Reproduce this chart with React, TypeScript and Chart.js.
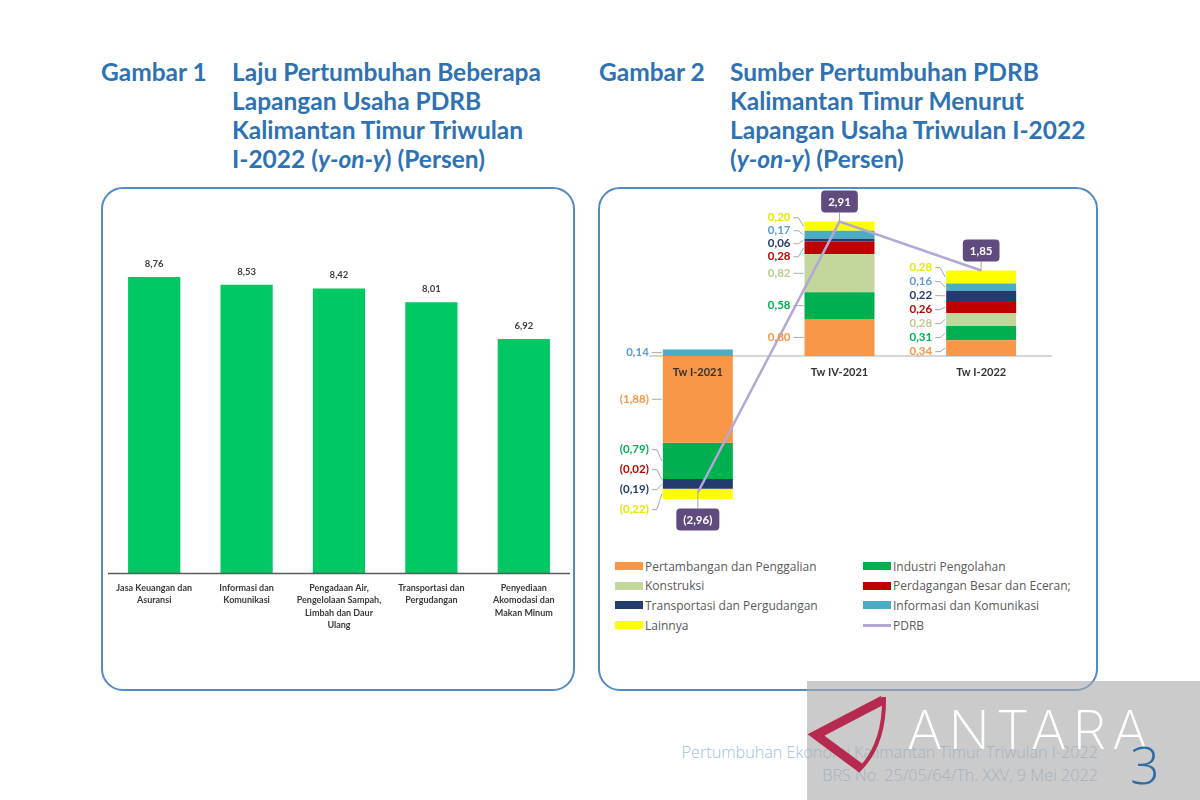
import React, { useEffect, useRef } from "react";
import { Chart, registerables } from "chart.js";

Chart.register(...registerables);

// ---------- DATA ----------
const growthCategories: string[][] = [
  ["Jasa Keuangan dan", "Asuransi"],
  ["Informasi dan", "Komunikasi"],
  ["Pengadaan Air,", "Pengelolaan Sampah,", "Limbah dan Daur", "Ulang"],
  ["Transportasi dan", "Pergudangan"],
  ["Penyediaan", "Akomodasi dan", "Makan Minum"],
];
const growthValues = [8.76, 8.53, 8.42, 8.01, 6.92];

const sourceQuarters = ["Tw I-2021", "Tw IV-2021", "Tw I-2022"];
const pertambangan = [-1.88, 0.8, 0.34];
const industri = [-0.79, 0.58, 0.31];
const konstruksi: (number | null)[] = [null, 0.82, 0.28];
const perdagangan = [-0.02, 0.28, 0.26];
const transportasi = [-0.19, 0.06, 0.22];
const informasi = [0.14, 0.17, 0.16];
const lainnya = [-0.22, 0.2, 0.28];
const pdrb = [-2.96, 2.91, 1.85];

const seriesNames = [
  "Pertambangan dan Penggalian",
  "Industri Pengolahan",
  "Konstruksi",
  "Perdagangan Besar dan Eceran;",
  "Transportasi dan Pergudangan",
  "Informasi dan Komunikasi",
  "Lainnya",
];
const seriesData = [pertambangan, industri, konstruksi, perdagangan, transportasi, informasi, lainnya];
const seriesColors = ["#f79646", "#00b050", "#c3d69b", "#c00000", "#233c6e", "#4bacc6", "#ffff00"];
const labelColors = ["#f79646", "#00b050", "#b9cc8f", "#c00000", "#233c6e", "#5b9bd5", "#e8e800"];
const pdrbName = "PDRB";
const pdrbColor = "#b4a7d6";
const labelGaps = [20, 13, 14];

const legendOrder = [0, 1, 2, 3, 4, 5, 6, 7];

const fmt = (v: number) => {
  const s = Math.abs(v).toFixed(2).replace(".", ",");
  return v < 0 ? `(${s})` : s;
};

const BLUE = "#2e72b3";
const FONT = "Lato, 'Open Sans', sans-serif";

// ---------- CHART 1 ----------
function GrowthChart() {
  const ref = useRef<HTMLCanvasElement>(null);
  useEffect(() => {
    if (!ref.current) return;
    const deco = {
      id: "growthDeco",
      afterDatasetsDraw(chart: any) {
        const ctx = chart.ctx;
        const area = chart.chartArea;
        const xs = chart.scales.x;
        const meta = chart.getDatasetMeta(0);
        ctx.save();
        ctx.strokeStyle = "#5a5a5a";
        ctx.lineWidth = 1.6;
        ctx.beginPath();
        ctx.moveTo(area.left, area.bottom + 0.5);
        ctx.lineTo(area.right, area.bottom + 0.5);
        ctx.stroke();
        ctx.textAlign = "center";
        ctx.textBaseline = "middle";
        ctx.font = `bold 9.5px ${FONT}`;
        ctx.fillStyle = "#3d3d3d";
        meta.data.forEach((el: any, i: number) => {
          ctx.fillText(fmt(growthValues[i]), el.x, el.y - 13);
        });
        ctx.font = `bold 9px ${FONT}`;
        ctx.fillStyle = "#3a3a3a";
        growthCategories.forEach((lines, i) => {
          const x = xs.getPixelForValue(i);
          lines.forEach((l, j) => ctx.fillText(l, x, area.bottom + 15 + j * 12.5));
        });
        ctx.restore();
      },
    };
    const chart = new Chart(ref.current, {
      type: "bar",
      data: {
        labels: growthCategories.map((c) => c.join(" ")),
        datasets: [
          {
            data: growthValues,
            backgroundColor: "#00c862",
            borderWidth: 0,
            barPercentage: 0.565,
            categoryPercentage: 1,
          },
        ],
      },
      options: {
        animation: false,
        responsive: false,
        maintainAspectRatio: false,
        layout: { padding: { left: 4, right: 2, top: 45, bottom: 113 } },
        plugins: { legend: { display: false }, tooltip: { enabled: false } },
        scales: {
          x: { display: false },
          y: { display: false, min: 0, max: 10 },
        },
      },
      plugins: [deco],
    });
    return () => chart.destroy();
  }, []);
  return (
    <canvas
      ref={ref}
      width={468}
      height={496}
      style={{ position: "absolute", left: 104, top: 190, width: 468, height: 496 }}
    />
  );
}

// ---------- CHART 2 ----------
function SourceChart() {
  const ref = useRef<HTMLCanvasElement>(null);
  useEffect(() => {
    if (!ref.current) return;
    const deco = {
      id: "sourceDeco",
      beforeDatasetsDraw(chart: any) {
        const ctx = chart.ctx;
        const area = chart.chartArea;
        const y0 = chart.scales.y.getPixelForValue(0);
        ctx.save();
        ctx.strokeStyle = "#d6d6d6";
        ctx.lineWidth = 2;
        ctx.beginPath();
        ctx.moveTo(area.left + 22, y0);
        ctx.lineTo(area.right, y0);
        ctx.stroke();
        ctx.restore();
      },
      afterDatasetsDraw(chart: any) {
        const ctx = chart.ctx;
        const ys = chart.scales.y;
        const xs = chart.scales.x;
        const y0 = ys.getPixelForValue(0);
        ctx.save();
        ctx.font = `bold 11.5px ${FONT}`;
        ctx.textBaseline = "middle";
        sourceQuarters.forEach((_, i) => {
          const items: any[] = [];
          seriesData.forEach((arr, d) => {
            const v = arr[i];
            if (v === null || v === undefined) return;
            const el: any = chart.getDatasetMeta(d).data[i];
            items.push({
              mid: (el.y + el.base) / 2,
              left: el.x - el.width / 2,
              text: fmt(v),
              color: labelColors[d],
            });
          });
          items.sort((a, b) => a.mid - b.mid);
          const g = labelGaps[i];
          let clusters = items.map((it, k) => ({ start: k, n: 1, sum: it.mid }));
          let merged = true;
          while (merged) {
            merged = false;
            for (let k = 0; k < clusters.length - 1; k++) {
              const a = clusters[k];
              const b = clusters[k + 1];
              const ac = a.sum / a.n;
              const bc = b.sum / b.n;
              const aBottom = ac + ((a.n - 1) * g) / 2;
              const bTop = bc - ((b.n - 1) * g) / 2;
              if (bTop - aBottom < g) {
                clusters.splice(k, 2, { start: a.start, n: a.n + b.n, sum: a.sum + b.sum });
                merged = true;
                break;
              }
            }
          }
          clusters.forEach((c) => {
            const center = c.sum / c.n;
            for (let k = 0; k < c.n; k++) {
              items[c.start + k].ly = center + (k - (c.n - 1) / 2) * g;
            }
          });
          items.forEach((it) => {
            const right = it.left - 14;
            ctx.strokeStyle = "#a6a6a6";
            ctx.lineWidth = 1;
            ctx.beginPath();
            ctx.moveTo(right + 3, it.ly);
            ctx.lineTo(right + 8, it.ly);
            ctx.lineTo(it.left - 1, it.mid);
            ctx.stroke();
            ctx.fillStyle = it.color;
            ctx.textAlign = "right";
            ctx.fillText(it.text, right, it.ly);
          });
        });
        ctx.fillStyle = "#333333";
        ctx.textAlign = "center";
        ctx.font = `bold 11px ${FONT}`;
        sourceQuarters.forEach((q, i) => {
          ctx.fillText(q, xs.getPixelForValue(i), y0 + 17);
        });
        const lineMeta = chart.getDatasetMeta(seriesData.length);
        ctx.font = `bold 11.5px ${FONT}`;
        lineMeta.data.forEach((pt: any, i: number) => {
          const v = pdrb[i];
          const text = fmt(v);
          const w = ctx.measureText(text).width + 14;
          const h = 22;
          const cy = v >= 0 ? pt.y - 20 : pt.y + 27;
          const bx = pt.x - w / 2;
          const by = cy - h / 2;
          ctx.strokeStyle = "#a6a6a6";
          ctx.lineWidth = 1;
          ctx.beginPath();
          ctx.moveTo(pt.x, v >= 0 ? by + h : by);
          ctx.lineTo(pt.x, pt.y);
          ctx.stroke();
          ctx.fillStyle = "#5f4b7d";
          ctx.beginPath();
          (ctx as any).roundRect(bx, by, w, h, 4);
          ctx.fill();
          ctx.fillStyle = "#ffffff";
          ctx.textAlign = "center";
          ctx.fillText(text, pt.x, cy + 0.5);
        });
        ctx.restore();
      },
    };
    const datasets: any[] = seriesData.map((arr, d) => ({
      type: "bar",
      label: seriesNames[d],
      data: arr,
      backgroundColor: seriesColors[d],
      borderWidth: 0,
      barPercentage: 0.494,
      categoryPercentage: 1,
      order: 2,
    }));
    datasets.push({
      type: "line",
      label: pdrbName,
      data: pdrb,
      borderColor: pdrbColor,
      borderWidth: 2.5,
      pointRadius: 0,
      tension: 0,
      order: 1,
      clip: false,
    });
    const chart = new Chart(ref.current, {
      type: "bar",
      data: { labels: sourceQuarters, datasets },
      options: {
        animation: false,
        responsive: false,
        maintainAspectRatio: false,
        layout: { padding: { left: 25, right: 42, top: 9, bottom: 28 } },
        plugins: { legend: { display: false }, tooltip: { enabled: false } },
        scales: {
          x: { display: false, stacked: true },
          y: { display: false, stacked: true, min: -3.6, max: 3.4 },
        },
      },
      plugins: [deco],
    });
    return () => chart.destroy();
  }, []);
  return (
    <canvas
      ref={ref}
      width={492}
      height={360}
      style={{ position: "absolute", left: 602, top: 190, width: 492, height: 360 }}
    />
  );
}

function Legend() {
  const names = [...seriesNames, pdrbName];
  const colors = [...seriesColors, pdrbColor];
  return (
    <div style={{ position: "absolute", left: 615, top: 556, width: 470 }}>
      {legendOrder.map((idx, k) => {
        const col = k % 2;
        const row = Math.floor(k / 2);
        const isLine = idx === names.length - 1;
        return (
          <div
            key={idx}
            style={{
              position: "absolute",
              left: col * 248,
              top: row * 19.7,
              height: 20,
              display: "flex",
              alignItems: "center",
              whiteSpace: "nowrap",
              font: `12px 'Open Sans', sans-serif`,
              color: "#595959",
            }}
          >
            <span
              style={{
                display: "inline-block",
                width: 28,
                height: isLine ? 3 : 8,
                background: colors[idx],
                marginRight: 2,
              }}
            />
            {names[idx]}
          </div>
        );
      })}
    </div>
  );
}

const titleStyle: React.CSSProperties = {
  position: "absolute",
  font: `bold 24.5px ${FONT}`,
  lineHeight: "29px",
  color: BLUE,
  whiteSpace: "nowrap",
};

const panelStyle: React.CSSProperties = {
  position: "absolute",
  border: "2.5px solid #5489c2",
  borderRadius: 22,
  boxSizing: "border-box",
  background: "#ffffff",
};

export default function App() {
  return (
    <div
      style={{
        position: "absolute",
        left: 0,
        top: 0,
        width: 1200,
        height: 800,
        background: "#ffffff",
        overflow: "hidden",
      }}
    >
      <div style={{ ...titleStyle, left: 101, top: 57 }}>Gambar 1</div>
      <div style={{ ...titleStyle, left: 232, top: 57 }}>
        Laju Pertumbuhan Beberapa
        <br />
        Lapangan Usaha PDRB
        <br />
        Kalimantan Timur Triwulan
        <br />
        I-2022 (<i>y-on-y</i>) (Persen)
      </div>
      <div style={{ ...titleStyle, left: 599, top: 57 }}>Gambar 2</div>
      <div style={{ ...titleStyle, left: 730, top: 57 }}>
        Sumber Pertumbuhan PDRB
        <br />
        Kalimantan Timur Menurut
        <br />
        Lapangan Usaha Triwulan I-2022
        <br />
        (<i>y-on-y</i>) (Persen)
      </div>

      <div style={{ ...panelStyle, left: 101, top: 187, width: 474, height: 504 }} />
      <div style={{ ...panelStyle, left: 598, top: 187, width: 500, height: 504 }} />

      <GrowthChart />
      <SourceChart />
      <Legend />

      <div
        style={{
          position: "absolute",
          right: 102,
          top: 741,
          font: `300 16.2px 'Open Sans', sans-serif`,
          color: "#9cc0e4",
          textAlign: "right",
          lineHeight: "23px",
          whiteSpace: "nowrap",
        }}
      >
        Pertumbuhan Ekonomi Kalimantan Timur Triwulan I-2022
        <br />
        BRS No. 25/05/64/Th. XXV, 9 Mei 2022
      </div>

      <div
        style={{
          position: "absolute",
          left: 807,
          top: 681,
          width: 393,
          height: 119,
          background: "rgba(168,168,168,0.6)",
        }}
      />
      <svg width={1200} height={800} style={{ position: "absolute", left: 0, top: 0 }}>
        <polyline
          points="883,700 816,735 862,769"
          fill="none"
          stroke="#b62a4f"
          strokeWidth={9}
          strokeLinejoin="miter"
        />
        <path d="M884,697 Q885,745 858,771" fill="none" stroke="#b62a4f" strokeWidth={4} />
      </svg>
      <div
        style={{
          position: "absolute",
          left: 907,
          top: 700,
          font: `200 54px Inter, 'Open Sans', sans-serif`,
          color: "#ffffff",
          letterSpacing: 6,
          lineHeight: "60px",
          whiteSpace: "nowrap",
        }}
      >
        ANTARA
      </div>
      <div
        style={{
          position: "absolute",
          left: 1130,
          top: 734,
          font: `300 52px 'Open Sans', sans-serif`,
          color: "#2f6ba4",
          lineHeight: "60px",
        }}
      >
        3
      </div>
    </div>
  );
}
